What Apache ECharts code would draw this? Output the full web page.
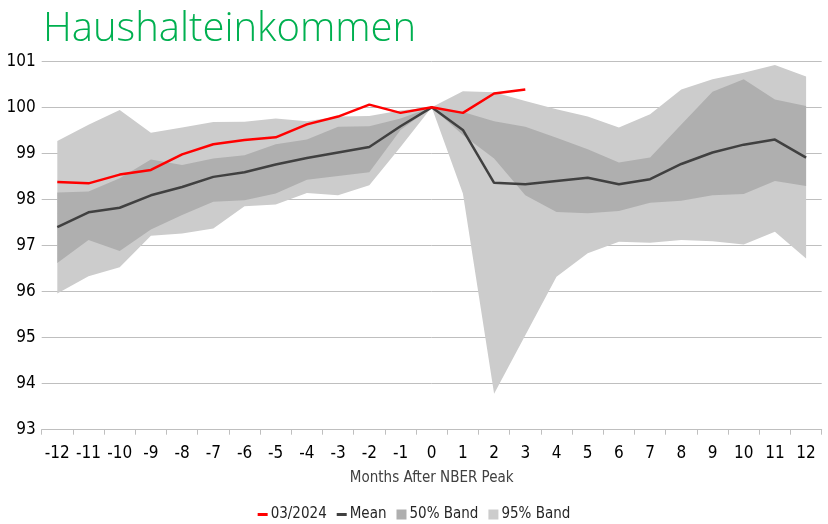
<!DOCTYPE html>
<html>
<head>
<meta charset="utf-8">
<script src="https://cdn.jsdelivr.net/npm/echarts@6/dist/echarts.min.js"></script>
<style>
  html, body { margin:0; padding:0; background:#fff; }
  #chart { width:828px; height:524px; }
</style>
</head>
<body>
<div id="chart"></div>
<script>
  // Monate nach NBER-Peak
  var months = ['-12','-11','-10','-9','-8','-7','-6','-5','-4','-3','-2','-1','0','1','2','3','4','5','6','7','8','9','10','11','12'];

  var current = [98.38,98.35,98.54,98.64,98.98,99.20,99.29,99.35,99.63,99.80,100.06,99.88,100,99.88,100.30,100.39,null,null,null,null,null,null,null,null,null];
  var mean = [97.40,97.72,97.82,98.09,98.27,98.49,98.59,98.76,98.90,99.02,99.14,99.59,100,99.51,98.36,98.33,98.40,98.47,98.33,98.44,98.77,99.02,99.19,99.30,98.91];

  var band50Low = [96.62,97.12,96.88,97.35,97.66,97.95,97.98,98.13,98.43,98.51,98.59,99.51,100,99.40,98.89,98.09,97.73,97.70,97.75,97.93,97.97,98.09,98.12,98.40,98.29];
  var band50High = [98.15,98.17,98.46,98.87,98.75,98.89,98.96,99.20,99.30,99.58,99.59,99.76,100,99.90,99.70,99.58,99.34,99.09,98.80,98.91,99.63,100.34,100.61,100.17,100.03];

  var band95Low = [95.96,96.33,96.53,97.21,97.26,97.37,97.85,97.89,98.14,98.09,98.31,99.14,100,98.13,93.78,95.05,96.32,96.83,97.08,97.06,97.12,97.09,97.02,97.30,96.72];
  var band95High = [99.27,99.62,99.94,99.45,99.56,99.68,99.69,99.76,99.70,99.80,99.81,99.93,100,100.35,100.33,100.14,99.96,99.80,99.56,99.85,100.39,100.61,100.75,100.92,100.67];

  var yTicks = [93,94,95,96,97,98,99,100,101];

  function diff(hi, lo){
    return hi.map(function(v,i){ return +(v - lo[i]).toFixed(2); });
  }

  var font = '"Liberation Sans Narrow","DejaVu Sans Condensed",sans-serif';
  var myChart = echarts.init(document.getElementById('chart'));
  var option = {
    animation:false,
    title:{
      text:'Haushalteinkommen',
      left:38,
      top:5,
      textStyle:{ color:'#00b050', fontSize:40, fontWeight:300, fontFamily:'"Open Sans",sans-serif' }
    },
    grid:{ left:41.7, right:6.3, top:61.3, bottom:94.3, containLabel:false },
    xAxis:{
      type:'category',
      data:months,
      boundaryGap:true,
      name:'Months After NBER Peak',
      nameLocation:'middle',
      nameGap:41,
      nameTextStyle:{ color:'#404040', fontSize:15, fontFamily:font },
      axisLine:{ lineStyle:{ color:'#bfbfbf', width:1 } },
      axisTick:{ show:true, length:5, lineStyle:{ color:'#bfbfbf' } },
      axisLabel:{ color:'#000', fontSize:17, margin:15, fontFamily:font, interval:0 },
      splitLine:{ show:false }
    },
    yAxis:{
      type:'value',
      min:yTicks[0],
      max:yTicks[yTicks.length-1],
      interval:1,
      axisLine:{ show:false },
      axisTick:{ show:false },
      axisLabel:{ color:'#000', fontSize:17, margin:6, fontFamily:font },
      splitLine:{ lineStyle:{ color:'#bfbfbf', width:1 } }
    },
    legend:{
      bottom:-3,
      left:'center',
      itemWidth:10,
      itemHeight:10,
      itemGap:10,
      textStyle:{ color:'#262626', fontSize:15, fontFamily:font, padding:[0,0,0,-2] },
      data:[
        { name:'03/2024', icon:'path://M0,4h10v3h-10z', itemStyle:{ color:'#ff0000' } },
        { name:'Mean', icon:'path://M0,4h10v3h-10z', itemStyle:{ color:'#404040' } },
        { name:'50% Band', icon:'path://M2,2h6v6h-6z', itemStyle:{ color:'#afafaf' } },
        { name:'95% Band', icon:'path://M2,2h6v6h-6z', itemStyle:{ color:'#cccccc' } }
      ]
    },
    series:[
      {
        name:'base95', type:'line', stack:'b95', data:band95Low,
        symbol:'none', lineStyle:{ opacity:0 }, silent:true
      },
      {
        name:'95% Band', type:'line', stack:'b95', data:diff(band95High, band95Low),
        symbol:'none', color:'#cccccc', lineStyle:{ width:0 },
        areaStyle:{ color:'#cccccc', opacity:1 }
      },
      {
        name:'base50', type:'line', stack:'b50', data:band50Low,
        symbol:'none', lineStyle:{ opacity:0 }, silent:true
      },
      {
        name:'50% Band', type:'line', stack:'b50', data:diff(band50High, band50Low),
        symbol:'none', color:'#afafaf', lineStyle:{ width:0 },
        areaStyle:{ color:'#afafaf', opacity:1 }
      },
      {
        name:'Mean', type:'line', data:mean,
        symbol:'none', color:'#404040', lineStyle:{ width:2.5, color:'#404040' }
      },
      {
        name:'03/2024', type:'line', data:current,
        symbol:'none', color:'#ff0000', lineStyle:{ width:2.5, color:'#ff0000' }
      }
    ]
  };
  myChart.setOption(option);
</script>
</body>
</html>
